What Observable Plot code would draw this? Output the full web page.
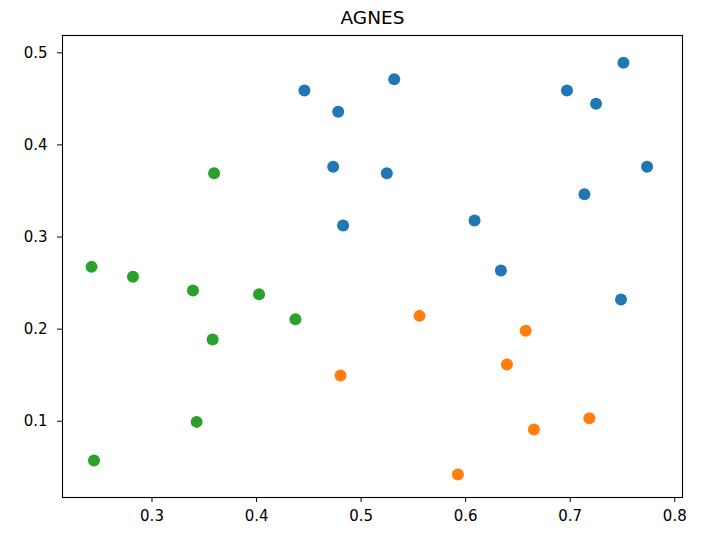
<!DOCTYPE html>
<html>
<head>
<meta charset="utf-8">
<script src="https://cdn.jsdelivr.net/npm/d3@7"></script>
<script src="https://cdn.jsdelivr.net/npm/@observablehq/plot@0.6"></script>
<style>
  html, body { margin: 0; padding: 0; background: #fff; }
  #chart svg { display: block; }
</style>
</head>
<body>
<div id="chart"></div>
<script>
const title = "AGNES";

const cluster0X = [0.4458, 0.4781, 0.4733, 0.4828, 0.5317, 0.6969, 0.7247, 0.7509, 0.5246, 0.7735, 0.7136, 0.6085, 0.6337, 0.7486];
const cluster0Y = [0.4591, 0.4359, 0.3762, 0.3125, 0.4713, 0.4591, 0.4446, 0.4891, 0.3693, 0.3762, 0.3465, 0.3179, 0.2636, 0.2321];

const cluster1X = [0.4803, 0.5559, 0.6574, 0.6395, 0.7183, 0.6653, 0.5926];
const cluster1Y = [0.1496, 0.2144, 0.1982, 0.1616, 0.1033, 0.0910, 0.0421];

const cluster2X = [0.3594, 0.2422, 0.2818, 0.3392, 0.4024, 0.4372, 0.3580, 0.3427, 0.2445];
const cluster2Y = [0.3693, 0.2676, 0.2568, 0.2419, 0.2379, 0.2107, 0.1887, 0.0993, 0.0573];

const clusterColors = ["#1f77b4", "#ff7f0e", "#2ca02c"];

const xTicks = [0.3, 0.4, 0.5, 0.6, 0.7, 0.8];
const xTickLabels = ["0.3", "0.4", "0.5", "0.6", "0.7", "0.8"];
const yTicks = [0.1, 0.2, 0.3, 0.4, 0.5];
const yTickLabels = ["0.1", "0.2", "0.3", "0.4", "0.5"];

const points = [];
[[cluster0X, cluster0Y], [cluster1X, cluster1Y], [cluster2X, cluster2Y]].forEach(([xs, ys], c) => {
  xs.forEach((x, i) => points.push({x, y: ys[i], cluster: c}));
});

const chart = Plot.plot({
  width: 702,
  height: 540,
  marginLeft: 62,
  marginRight: 20,
  marginTop: 35,
  marginBottom: 43,
  style: { fontFamily: "DejaVu Sans", fontSize: "15px", color: "#000", background: "#fff" },
  x: { domain: [0.2144, 0.8074] },
  y: { domain: [0.0172, 0.5188] },
  color: { domain: [0, 1, 2], range: clusterColors },
  marks: [
    Plot.axisX({ ticks: xTicks, tickFormat: (d, i) => xTickLabels[i], tickSize: 5, tickPadding: 8, fontSize: 15, label: null, stroke: "#000" }),
    Plot.axisY({ ticks: yTicks, tickFormat: (d, i) => yTickLabels[i], tickSize: 5, tickPadding: 10, fontSize: 15, label: null, stroke: "#000" }),
    Plot.dot(points, { x: "x", y: "y", fill: d => d.cluster, r: 6, stroke: null }),
    Plot.frame({ stroke: "#000", strokeWidth: 1.1 }),
    Plot.text([title], { frameAnchor: "top", lineAnchor: "bottom", dy: -12, fontSize: 18.5, fill: "#000", text: d => d })
  ]
});
document.getElementById("chart").appendChild(chart);
</script>
</body>
</html>
